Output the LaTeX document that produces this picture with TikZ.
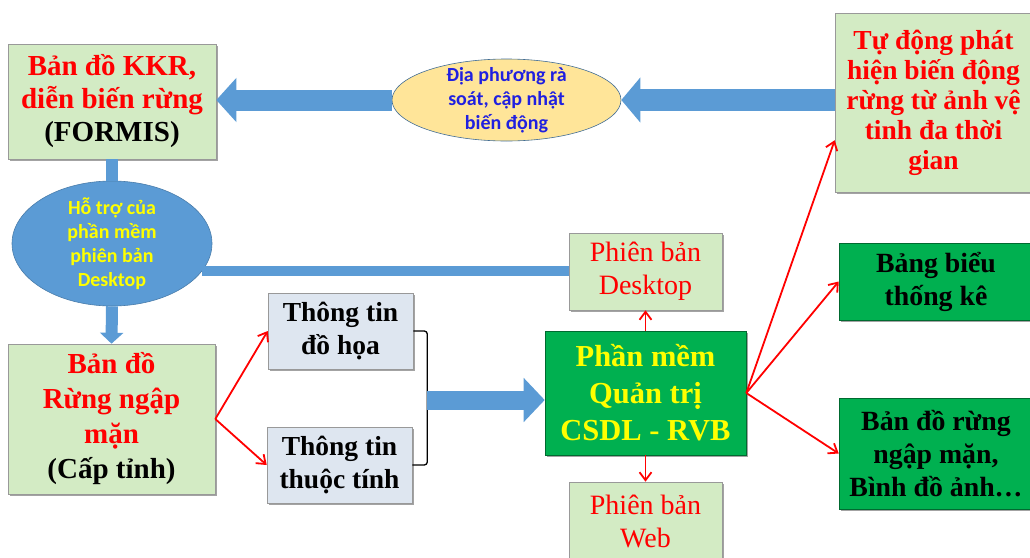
\documentclass[tikz,border=0pt]{standalone}
\usepackage{fontspec}
\setmainfont{Liberation Serif}
\newfontfamily\calibri{Carlito}
\usetikzlibrary{shapes.geometric,arrows.meta,shadows,calc}
\definecolor{boxgreen}{RGB}{211,235,196}
\definecolor{infogray}{RGB}{222,230,240}
\definecolor{deepgreen}{RGB}{0,176,80}
\definecolor{arrowblue}{RGB}{91,155,213}
\definecolor{bubbleyellow}{RGB}{255,229,153}
\definecolor{textblue}{RGB}{32,32,224}
\definecolor{textyellow}{RGB}{255,255,0}
\tikzset{
  panel/.style={rectangle, draw=black!40, line width=0.6pt, align=center, inner sep=0pt,
    drop shadow={shadow xshift=1.6pt, shadow yshift=-1.6pt, fill=black!60, opacity=0.6}},
  mapbox/.style={panel, fill=boxgreen, text=red, font=\fontsize{29}{33}\selectfont\bfseries},
  infobox/.style={panel, fill=infogray, text=black, font=\fontsize{27.5}{33}\selectfont\bfseries},
  softbox/.style={panel, fill=deepgreen, draw=deepgreen!60!black, text=textyellow, font=\fontsize{30.5}{37}\selectfont\bfseries},
  versionbox/.style={panel, fill=boxgreen, text=red, font=\fontsize{28}{33}\selectfont},
  outbox/.style={panel, fill=deepgreen, draw=deepgreen!60!black, text=black, font=\fontsize{27.8}{33}\selectfont\bfseries},
  bubble/.style={ellipse, inner sep=0pt, line width=0.6pt},
  bubbletext/.style={align=center, inner sep=0pt, font=\calibri\fontsize{20}{24}\selectfont\bfseries},
  bluebar/.style={draw=arrowblue, fill=arrowblue},
  redarrow/.style={draw=red, line width=1.8pt, -{Straight Barb[length=8pt,width=12pt]}},
  bracketline/.style={draw=black, line width=1.3pt, rounded corners=3pt}
}
\begin{document}
\begin{tikzpicture}[x=1pt,y=-1pt]
\useasboundingbox (0,0) rectangle (1030,557);
\node (kkr) [mapbox, minimum width=208pt, minimum height=115pt] at (112,101.5) {Bản đồ KKR,\\ diễn biến rừng\\ \textcolor{black}{(FORMIS)}};
\node (diaphuong) [bubble, fill=bubbleyellow, draw=arrowblue!70!black, minimum width=229pt, minimum height=82pt,
  label={[bubbletext, text=textblue]center:{Địa phương rà\\ soát, cập nhật\\ biến động}}] at (506.5,100) {};
\node (tudong) [mapbox, font=\fontsize{27.5}{30}\selectfont\bfseries, minimum width=197pt, minimum height=179pt] at (933.5,102.5) {Tự động phát\\ hiện biến động\\ rừng từ ảnh vệ\\ tinh đa thời\\ gian};
\node (hotro) [bubble, fill=arrowblue, draw=arrowblue!80!black, minimum width=200pt, minimum height=125pt,
  label={[bubbletext, text=textyellow]center:{Hỗ trợ của\\ phần mềm\\ phiên bản\\ Desktop}}] at (112,243.5) {};
\node (rung) [mapbox, font=\fontsize{29}{35}\selectfont\bfseries, minimum width=207pt, minimum height=150pt] at (111.5,419) {Bản đồ\\ Rừng ngập\\ mặn\\ \textcolor{black}{(Cấp tỉnh)}};
\node (dohoa) [infobox, minimum width=145pt, minimum height=76pt] at (340.5,331) {Thông tin\\ đồ họa};
\node (thuoctinh) [infobox, minimum width=145pt, minimum height=76pt] at (339.5,465) {Thông tin\\ thuộc tính};
\node (phanmem) [softbox, minimum width=201pt, minimum height=124pt] at (645.5,393) {Phần mềm\\ Quản trị\\ CSDL - RVB};
\node (desktop) [versionbox, minimum width=153pt, minimum height=77pt] at (645.5,271.5) {Phiên bản\\ Desktop};
\node (web) [versionbox, minimum width=153pt, minimum height=78pt] at (645.5,521) {Phiên bản\\ Web};
\node (bangbieu) [outbox, minimum width=194pt, minimum height=77pt] at (936,281.5) {Bảng biểu\\ thống kê};
\node (bando) [outbox, minimum width=194pt, minimum height=111pt] at (936,453.5) {Bản đồ rừng\\ ngập mặn,\\ Bình đồ ảnh…};
\draw[bluebar, line width=21pt, -{Triangle[width=43pt,length=20pt]}] (diaphuong.west) -- (diaphuong.west -| kkr.east);
\draw[bluebar, line width=22pt, -{Triangle[width=44pt,length=19pt]}] (diaphuong.east -| tudong.west) -- (diaphuong.east);
\draw[bluebar, line width=12pt] (kkr.south) -- (hotro.north);
\draw[bluebar, line width=12pt, -{Triangle[width=23pt,length=11pt]}] (hotro.south) -- (rung.north);
\draw[bluebar, line width=10pt] (hotro.-17) -- (hotro.-17 -| desktop.west);
\draw[bracketline] (dohoa.east) -- ++(14,0) |- (thuoctinh.east);
\coordinate (brk) at (427,400);
\draw[bluebar, line width=19pt, -{Triangle[width=43pt,length=21pt]}] (brk) -- (brk -| phanmem.west);
\draw[redarrow] (rung.east) -- (dohoa.west);
\draw[redarrow] (rung.east) -- (thuoctinh.west);
\draw[redarrow] (phanmem.north) -- (desktop.south);
\draw[redarrow] (phanmem.south) -- (web.north);
\draw[redarrow] (phanmem.east) -- ($(tudong.south west)!0.29!(tudong.north west)$);
\draw[redarrow] (phanmem.east) -- (bangbieu.west);
\draw[redarrow] (phanmem.east) -- (bando.west);
\end{tikzpicture}
\end{document}
